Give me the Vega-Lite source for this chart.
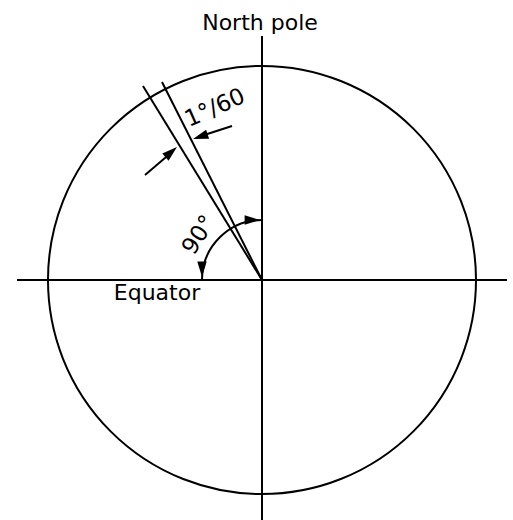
{
  "$schema": "https://vega.github.io/schema/vega-lite/v6.json",
  "width": 513,
  "height": 520,
  "padding": 0,
  "autosize": "none",
  "background": "white",
  "config": {"view": {"stroke": null}},
  "layer": [
    {
      "data": {"values": [{"x": 0, "y": 0}]},
      "mark": {"type": "point", "filled": false, "stroke": "black", "strokeWidth": 2, "opacity": 1, "size": 183184},
      "encoding": {
        "x": {"field": "x", "type": "quantitative", "scale": {"domain": [-262, 251], "nice": false, "zero": false}, "axis": null},
        "y": {"field": "y", "type": "quantitative", "scale": {"domain": [-240, 280], "nice": false, "zero": false}, "axis": null}
      }
    },
    {
      "data": {"values": [
        {"x": -245, "y": 0, "x2": 245, "y2": 0},
        {"x": 0, "y": 244, "x2": 0, "y2": -240},
        {"x": 0, "y": 0, "x2": -119, "y2": 194},
        {"x": 0, "y": 0, "x2": -100, "y2": 198},
        {"x": -117, "y": 105, "x2": -90, "y2": 128},
        {"x": -30, "y": 154, "x2": -64, "y2": 143}
      ]},
      "mark": {"type": "rule", "stroke": "black", "strokeWidth": 2},
      "encoding": {
        "x": {"field": "x", "type": "quantitative", "scale": {"domain": [-262, 251], "nice": false, "zero": false}, "axis": null},
        "y": {"field": "y", "type": "quantitative", "scale": {"domain": [-240, 280], "nice": false, "zero": false}, "axis": null},
        "x2": {"field": "x2"},
        "y2": {"field": "y2"}
      }
    },
    {
      "data": {"values": [{"x": 0, "y": 0, "t1": -1.5708, "t2": 0, "r": 60}]},
      "mark": {"type": "arc", "fill": null, "stroke": "black", "strokeWidth": 2},
      "encoding": {
        "x": {"field": "x", "type": "quantitative", "scale": {"domain": [-262, 251], "nice": false, "zero": false}, "axis": null},
        "y": {"field": "y", "type": "quantitative", "scale": {"domain": [-240, 280], "nice": false, "zero": false}, "axis": null},
        "theta": {"field": "t1", "type": "quantitative", "scale": null},
        "theta2": {"field": "t2"},
        "radius": {"field": "r", "type": "quantitative", "scale": null},
        "radius2": {"field": "r"}
      }
    },
    {
      "data": {"values": [
        {"x": -85, "y": 133, "a": 48.8},
        {"x": -69, "y": 141, "a": 251.6},
        {"x": -2, "y": 60, "a": 90},
        {"x": -60, "y": 3, "a": 180}
      ]},
      "mark": {"type": "point", "filled": true, "fill": "black", "stroke": null, "opacity": 1, "size": 560, "shape": "M0,0L0.4,1.3L-0.4,1.3Z"},
      "encoding": {
        "x": {"field": "x", "type": "quantitative", "scale": {"domain": [-262, 251], "nice": false, "zero": false}, "axis": null},
        "y": {"field": "y", "type": "quantitative", "scale": {"domain": [-240, 280], "nice": false, "zero": false}, "axis": null},
        "angle": {"field": "a", "type": "quantitative", "scale": null}
      }
    },
    {
      "data": {"values": [
        {"x": -2, "y": 250, "t": "North pole", "a": 0},
        {"x": -105, "y": -20, "t": "Equator", "a": 0}
      ]},
      "mark": {"type": "text", "font": "DejaVu Sans", "fontSize": 22, "color": "black", "align": "center", "baseline": "alphabetic"},
      "encoding": {
        "x": {"field": "x", "type": "quantitative", "scale": {"domain": [-262, 251], "nice": false, "zero": false}, "axis": null},
        "y": {"field": "y", "type": "quantitative", "scale": {"domain": [-240, 280], "nice": false, "zero": false}, "axis": null},
        "text": {"field": "t"}
      }
    },
    {
      "data": {"values": [
        {"x": -47, "y": 172, "t": "1°/60", "a": -24},
        {"x": -63, "y": 45, "t": "90°", "a": -57}
      ]},
      "mark": {"type": "text", "font": "DejaVu Sans", "fontSize": 23, "color": "black", "align": "center", "baseline": "middle"},
      "encoding": {
        "x": {"field": "x", "type": "quantitative", "scale": {"domain": [-262, 251], "nice": false, "zero": false}, "axis": null},
        "y": {"field": "y", "type": "quantitative", "scale": {"domain": [-240, 280], "nice": false, "zero": false}, "axis": null},
        "text": {"field": "t"},
        "angle": {"field": "a", "type": "quantitative", "scale": null}
      }
    }
  ]
}
